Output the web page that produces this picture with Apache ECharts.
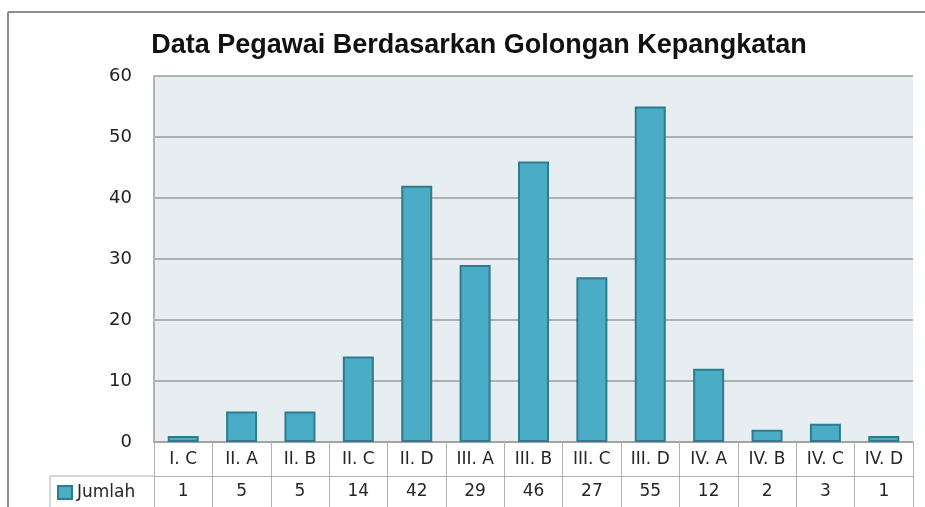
<!DOCTYPE html>
<html>
<head>
<meta charset="utf-8">
<script src="https://cdn.jsdelivr.net/npm/echarts@6/dist/echarts.min.js"></script>
<style>html,body{margin:0;padding:0;background:#fff;}#c{width:925px;height:507px;}</style>
</head>
<body>
<div id="c"></div>
<script>
var titleText = 'Data Pegawai Berdasarkan Golongan Kepangkatan';
var categories = ['I. C','II. A','II. B','II. C','II. D','III. A','III. B','III. C','III. D','IV. A','IV. B','IV. C','IV. D'];
var seriesName = 'Jumlah';
var values = [1,5,5,14,42,29,46,27,55,12,2,3,1];
var yTicks = [0,10,20,30,40,50,60];

var chart = echarts.init(document.getElementById('c'), null, {renderer:'canvas'});
var tableFont = {fontFamily:'DejaVu Sans', fontSize:17, color:'#262626'};
chart.setOption({
  animation:false,
  backgroundColor:'#ffffff',
  title:{
    text:titleText, left:474, top:27, textAlign:'center',
    textStyle:{fontFamily:'Liberation Sans', fontWeight:'bold', fontSize:27, color:'#111'}
  },
  legend:{
    left:57, top:484, padding:0, icon:'rect', itemWidth:14, itemHeight:13, itemGap:4,
    data:[seriesName],
    textStyle:tableFont
  },
  grid:{left:154, top:76, width:759, height:366, show:true, backgroundColor:'#e7eef2', borderWidth:0},
  xAxis:[{
    type:'category', data:categories, position:'bottom', gridIndex:0,
    axisLine:{show:true, lineStyle:{color:'#a0a0a0', width:1.5}},
    axisTick:{show:true, length:65, interval:0, lineStyle:{color:'#b0b0b0', width:1}},
    axisLabel:Object.assign({margin:9, interval:0}, tableFont),
    splitLine:{show:false}
  },{
    type:'category', data:values.map(String), position:'bottom', offset:34, gridIndex:0,
    axisLine:{show:true, lineStyle:{color:'#b0b0b0', width:1}},
    axisTick:{show:false},
    axisLabel:Object.assign({margin:7, interval:0}, tableFont),
    splitLine:{show:false}
  }],
  yAxis:{
    type:'value', min:yTicks[0], max:yTicks[yTicks.length-1], interval:10,
    axisLine:{show:true, lineStyle:{color:'#b4b4b4', width:2}},
    axisTick:{show:false},
    axisLabel:{margin:22, fontFamily:'DejaVu Sans', fontSize:18, color:'#222'},
    splitLine:{lineStyle:{color:'#9a9a9a', width:1.5}}
  },
  series:[{
    name:seriesName, type:'bar', xAxisIndex:0, data:values, barWidth:31,
    itemStyle:{color:'#4bacc6', borderColor:'#2f7b8e', borderWidth:2}
  }],
  graphic:[
    {type:'line', shape:{x1:8, y1:12, x2:925, y2:12}, style:{stroke:'#8c8c8c', lineWidth:2}, silent:true},
    {type:'line', shape:{x1:8, y1:12, x2:8, y2:507}, style:{stroke:'#8c8c8c', lineWidth:2}, silent:true},
    {type:'line', shape:{x1:50, y1:476, x2:154, y2:476}, style:{stroke:'#b0b0b0', lineWidth:1}, silent:true},
    {type:'line', shape:{x1:50, y1:476, x2:50, y2:507}, style:{stroke:'#b0b0b0', lineWidth:1}, silent:true}
  ]
});
</script>
</body>
</html>
